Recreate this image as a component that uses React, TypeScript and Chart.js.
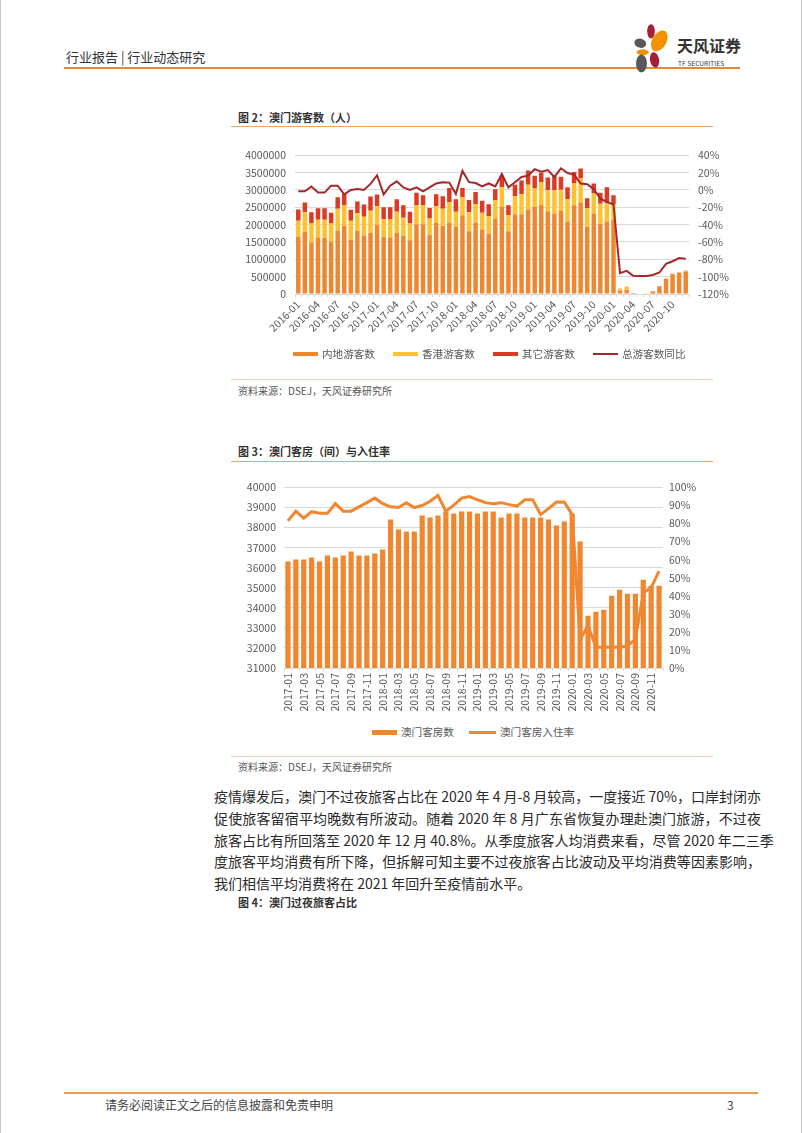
import React, { useEffect, useRef } from "react";
import { Chart, registerables } from "chart.js";

Chart.register(...registerables);

const FONT = "'Noto Sans CJK SC', 'Noto Sans', sans-serif";
Chart.defaults.font.family = FONT;

function monthRange(startYear: number, endYear: number): string[] {
  const out: string[] = [];
  for (let y = startYear; y <= endYear; y++) {
    for (let m = 1; m <= 12; m++) out.push(`${y}-${m < 10 ? "0" + m : m}`);
  }
  return out;
}

// ---- Figure 2: Macau visitors ----
const visitorMonths = monthRange(2016, 2020);
const mainlandVisitors = [
  1650000, 1790000, 1490000, 1620000, 1620000, 1510000, 1830000, 1970000, 1570000, 1820000, 1690000, 1770000,
  1990000, 1650000, 1630000, 1770000, 1690000, 1550000, 2010000, 2010000, 1710000, 2050000, 1970000, 2060000,
  1930000, 2270000, 1810000, 2060000, 1860000, 1740000, 2160000, 2510000, 1810000, 2300000, 2300000, 2440000,
  2510000, 2570000, 2390000, 2320000, 2410000, 2090000, 2560000, 2640000, 1930000, 2320000, 2020000, 2080000,
  2140000, 100000, 120000, 8000, 12000, 18000, 65000, 220000, 440000, 570000, 610000, 650000,
];
const hongKongVisitors = [
  460000, 570000, 560000, 520000, 520000, 520000, 630000, 600000, 540000, 510000, 540000, 630000,
  540000, 510000, 530000, 600000, 510000, 500000, 560000, 540000, 470000, 480000, 490000, 590000,
  440000, 520000, 550000, 530000, 480000, 510000, 550000, 570000, 460000, 520000, 580000, 710000,
  530000, 650000, 600000, 680000, 600000, 640000, 630000, 690000, 550000, 580000, 580000, 540000,
  450000, 40000, 80000, 2000, 3000, 4000, 10000, 5000, 7000, 8000, 14000, 15000,
];
const otherVisitors = [
  330000, 280000, 310000, 330000, 330000, 310000, 330000, 330000, 320000, 340000, 350000, 410000,
  340000, 340000, 340000, 360000, 360000, 320000, 350000, 300000, 300000, 350000, 360000, 410000,
  360000, 270000, 350000, 350000, 350000, 340000, 310000, 330000, 290000, 330000, 390000, 410000,
  370000, 280000, 370000, 400000, 370000, 350000, 330000, 290000, 280000, 290000, 320000, 460000,
  260000, 15000, 10000, 1000, 1000, 1000, 3000, 2000, 2000, 3000, 3000, 2000,
];
const totalVisitorsYoY = [
  -1.5, -1.5, 4, -3, -3, 5, 5, -5, 0, 1, 0, 7,
  17, -5, 5, 10, 3, 0, 3, -1.5, 3, 7.5, 9, 8.5,
  -4.5, 22, 9, 8, 4, 7.5, 4, 18.5, 3, 9, 15, 16.5,
  24, 21, 23, 15, 25, 19.6, 17.8, 7.4, 6.7, 1, -10, -13.7,
  -16.7, -95.9, -93.3, -98.9, -99.3, -99.3, -98.1, -95.2, -85.2, -82.2, -78.5, -79.3,
];

// ---- Figure 3: Macau hotel rooms and occupancy ----
const roomMonths = monthRange(2017, 2020);
const hotelRooms = [
  36300, 36400, 36400, 36500, 36300, 36600, 36500, 36600, 36800, 36600, 36600, 36700,
  36900, 38400, 37900, 37800, 37800, 38600, 38500, 38600, 38800, 38700, 38800, 38800,
  38700, 38800, 38800, 38500, 38700, 38700, 38500, 38500, 38500, 38400, 38100, 38300,
  38700, 37300, 33600, 33800, 33900, 34600, 34900, 34700, 34700, 35400, 35100, 35100,
];
const occupancyRate = [
  81.4, 86.8, 82.9, 86.5, 85.6, 85.6, 91, 86.8, 86.8, 89.2, 91.5, 94,
  91, 89.2, 88.8, 91.4, 88.8, 89.9, 92.3, 95.5, 86.8, 90.1, 94, 94.9,
  93.1, 91.5, 90.9, 91.5, 90.4, 89.6, 93.1, 93.1, 84.9, 88.2, 91.8, 91.8,
  84.9, 15.5, 23.6, 11.5, 11.5, 11.5, 11.5, 12.2, 15.8, 41.5, 44.5, 53.6,
];

const TICK_COLOR = "#595959";
const GRID_COLOR = "#D9D9D9";

function useChart(ref: React.RefObject<HTMLCanvasElement | null>, makeConfig: () => any) {
  useEffect(() => {
    if (!ref.current) return;
    const chart = new Chart(ref.current, makeConfig());
    return () => chart.destroy();
  }, []);
}

function VisitorsChart() {
  const ref = useRef<HTMLCanvasElement | null>(null);
  useChart(ref, () => ({
    type: "bar",
    data: {
      labels: visitorMonths,
      datasets: [
        { type: "bar", label: "内地游客数", data: mainlandVisitors, backgroundColor: "#EE8730", yAxisID: "y", order: 1, barPercentage: 0.68, categoryPercentage: 1 },
        { type: "bar", label: "香港游客数", data: hongKongVisitors, backgroundColor: "#FFC12F", yAxisID: "y", order: 1, barPercentage: 0.68, categoryPercentage: 1 },
        { type: "bar", label: "其它游客数", data: otherVisitors, backgroundColor: "#DC3A22", yAxisID: "y", order: 1, barPercentage: 0.68, categoryPercentage: 1 },
        { type: "line", label: "总游客数同比", data: totalVisitorsYoY, borderColor: "#A3282B", backgroundColor: "#A3282B", borderWidth: 2, pointRadius: 0, tension: 0, yAxisID: "y1", order: 0 },
      ],
    },
    options: {
      responsive: false,
      animation: false,
      layout: { padding: { top: 10, left: 0, right: 0, bottom: 0 } },
      plugins: { legend: { display: false }, tooltip: { enabled: false } },
      scales: {
        x: {
          stacked: true,
          grid: { display: true, drawOnChartArea: false, color: GRID_COLOR, tickLength: 3 },
          border: { color: GRID_COLOR },
          ticks: {
            autoSkip: false, maxRotation: 45, minRotation: 45, color: TICK_COLOR, font: { size: 10.5 }, padding: 1,
            callback: (_v: any, i: number) => (i % 3 === 0 ? visitorMonths[i] : ""),
          },
          afterFit: (s: any) => { s.height = 56; },
        },
        y: {
          stacked: true, min: 0, max: 4000000,
          ticks: { stepSize: 500000, color: TICK_COLOR, font: { size: 10.5 }, padding: 9, callback: (v: any) => String(v) },
          grid: { color: GRID_COLOR, drawTicks: false },
          border: { display: false },
          afterFit: (s: any) => { s.width = 64; },
        },
        y1: {
          position: "right", min: -120, max: 40,
          ticks: { stepSize: 20, color: TICK_COLOR, font: { size: 10.5 }, padding: 9, callback: (v: any) => v + "%" },
          grid: { display: false, drawTicks: false },
          border: { display: false },
          afterFit: (s: any) => { s.width = 52; },
        },
      },
    },
  }));
  return <canvas ref={ref} width={510} height={210} style={{ position: "absolute", left: 230, top: 140, width: 510, height: 210 }} />;
}

function RoomsChart() {
  const ref = useRef<HTMLCanvasElement | null>(null);
  useChart(ref, () => ({
    type: "bar",
    data: {
      labels: roomMonths,
      datasets: [
        { type: "bar", label: "澳门客房数", data: hotelRooms, backgroundColor: "#EE8730", yAxisID: "y", order: 1, barPercentage: 0.66, categoryPercentage: 1 },
        { type: "line", label: "澳门客房入住率", data: occupancyRate, borderColor: "#EE8730", backgroundColor: "#EE8730", borderWidth: 3, pointRadius: 0, tension: 0, yAxisID: "y1", order: 0 },
      ],
    },
    options: {
      responsive: false,
      animation: false,
      layout: { padding: { top: 10, left: 0, right: 0, bottom: 0 } },
      plugins: { legend: { display: false }, tooltip: { enabled: false } },
      scales: {
        x: {
          grid: { display: true, drawOnChartArea: false, color: GRID_COLOR, tickLength: 3 },
          border: { color: GRID_COLOR },
          ticks: {
            autoSkip: false, maxRotation: 90, minRotation: 90, color: TICK_COLOR, font: { size: 10.5 }, padding: 2,
            callback: (_v: any, i: number) => (i % 2 === 0 ? roomMonths[i] : ""),
          },
          afterFit: (s: any) => { s.height = 55; },
        },
        y: {
          min: 31000, max: 40000,
          ticks: { stepSize: 1000, color: TICK_COLOR, font: { size: 10.5 }, padding: 8, callback: (v: any) => String(v) },
          grid: { color: GRID_COLOR, drawTicks: false },
          border: { display: false },
          afterFit: (s: any) => { s.width = 53; },
        },
        y1: {
          position: "right", min: 0, max: 100,
          ticks: { stepSize: 10, color: TICK_COLOR, font: { size: 10.5 }, padding: 6, callback: (v: any) => v + "%" },
          grid: { display: false, drawTicks: false },
          border: { display: false },
          afterFit: (s: any) => { s.width = 38; },
        },
      },
    },
  }));
  return <canvas ref={ref} width={470} height={250} style={{ position: "absolute", left: 230, top: 473, width: 470, height: 250 }} />;
}

function T(props: { x: number; y: number; size: number; color?: string; bold?: boolean; children: React.ReactNode; style?: React.CSSProperties }) {
  return (
    <div
      style={{
        position: "absolute", left: props.x, top: props.y, transform: "translateY(-50%)",
        fontSize: props.size, lineHeight: 1, whiteSpace: "nowrap", color: props.color || "#333",
        fontWeight: props.bold ? 700 : 400, fontFamily: FONT, ...props.style,
      }}
    >
      {props.children}
    </div>
  );
}

function Line(props: { x: number; y: number; w: number; h: number; color: string }) {
  return <div style={{ position: "absolute", left: props.x, top: props.y, width: props.w, height: props.h, background: props.color }} />;
}

function LegendItem(props: { x: number; y: number; color: string; h: number; label: string; w?: number }) {
  const w = props.w || 25;
  return (
    <>
      <Line x={props.x} y={props.y - props.h / 2} w={w} h={props.h} color={props.color} />
      <T x={props.x + w + 4} y={props.y} size={10.6} color={TICK_COLOR}>{props.label}</T>
    </>
  );
}

const paragraphLines = [
  "疫情爆发后，澳门不过夜旅客占比在 2020 年 4 月-8 月较高，一度接近 70%，口岸封闭亦",
  "促使旅客留宿平均晚数有所波动。随着 2020 年 8 月广东省恢复办理赴澳门旅游，不过夜",
  "旅客占比有所回落至 2020 年 12 月 40.8%。从季度旅客人均消费来看，尽管 2020 年二三季",
  "度旅客平均消费有所下降，但拆解可知主要不过夜旅客占比波动及平均消费等因素影响，",
  "我们相信平均消费将在 2021 年回升至疫情前水平。",
];

export default function App() {
  return (
    <div style={{ position: "absolute", left: 0, top: 0, width: 802, height: 1133, background: "#fff", overflow: "hidden", fontFamily: FONT, boxSizing: "border-box", borderLeft: "1px solid #c8c8c8", borderRight: "1px solid #c8c8c8" }}>
      {/* header */}
      <T x={65} y={56} size={13} color="#333">行业报告 | 行业动态研究</T>
      <Line x={63} y={67} w={676} h={2} color="#E8892F" />
      <svg style={{ position: "absolute", left: 629, top: 23 }} width={42} height={50} viewBox="0 0 34 42">
        <ellipse cx={17} cy={7} rx={3.2} ry={6} fill="#A51F36" />
        <ellipse cx={24} cy={15} rx={6} ry={9.5} fill="#F39200" transform="rotate(30 24 15)" />
        <ellipse cx={8} cy={17} rx={5} ry={3.8} fill="#5A5758" transform="rotate(15 8 17)" />
        <ellipse cx={10} cy={24.5} rx={5} ry={2.4} fill="#F39200" />
        <ellipse cx={20} cy={31} rx={3.8} ry={6.5} fill="#A51F36" transform="rotate(-10 20 31)" />
        <ellipse cx={9} cy={34} rx={4.6} ry={7.5} fill="#5A5758" />
      </svg>
      <T x={676} y={45} size={16} bold color="#333">天风证券</T>
      <T x={677} y={63} size={6.5} color="#333" style={{ letterSpacing: 0.1 }}>TF SECURITIES</T>

      {/* figure 2 */}
      <T x={237} y={117} size={11} bold color="#333">图 2：澳门游客数（人）</T>
      <Line x={230} y={126} w={482} h={1} color="#EFA262" />
      <VisitorsChart />
      <LegendItem x={292} y={354} color="#EE8730" h={4} label="内地游客数" />
      <LegendItem x={392} y={354} color="#FFC12F" h={4} label="香港游客数" />
      <LegendItem x={492} y={354} color="#DC3A22" h={4} label="其它游客数" />
      <LegendItem x={592} y={354} color="#A3282B" h={2} label="总游客数同比" />
      <Line x={230} y={379} w={482} h={1} color="#F6D5BC" />
      <T x={237} y={391} size={10} color="#555">资料来源：DSEJ，天风证券研究所</T>

      {/* figure 3 */}
      <T x={237} y={451} size={11} bold color="#333">图 3：澳门客房（间）与入住率</T>
      <Line x={230} y={461} w={482} h={1} color="#EFA262" />
      <RoomsChart />
      <LegendItem x={371} y={732} color="#EE8730" h={5} label="澳门客房数" />
      <LegendItem x={468} y={732} color="#EE8730" h={3} w={27} label="澳门客房入住率" />
      <Line x={230} y={756} w={482} h={1} color="#F6D5BC" />
      <T x={237} y={767} size={10} color="#555">资料来源：DSEJ，天风证券研究所</T>

      {/* paragraph */}
      {paragraphLines.map((line, i) => (
        <div
          key={i}
          style={{
            position: "absolute", left: 213, top: 796 + i * 21.8, transform: "translateY(-50%)",
            width: i < 4 ? 547 : undefined, fontSize: 14, lineHeight: 1, color: "#2a2a2a", fontFamily: FONT,
            textAlign: "justify", textAlignLast: i < 4 ? "justify" : "left", whiteSpace: "nowrap",
          } as React.CSSProperties}
        >
          {line}
        </div>
      ))}

      <T x={237} y={902} size={11} bold color="#333">图 4：澳门过夜旅客占比</T>

      {/* footer */}
      <Line x={63} y={1092} w={694} h={2} color="#E8A040" />
      <T x={104} y={1105} size={12} color="#444">请务必阅读正文之后的信息披露和免责申明</T>
      <T x={726} y={1105} size={12} color="#444">3</T>
    </div>
  );
}
